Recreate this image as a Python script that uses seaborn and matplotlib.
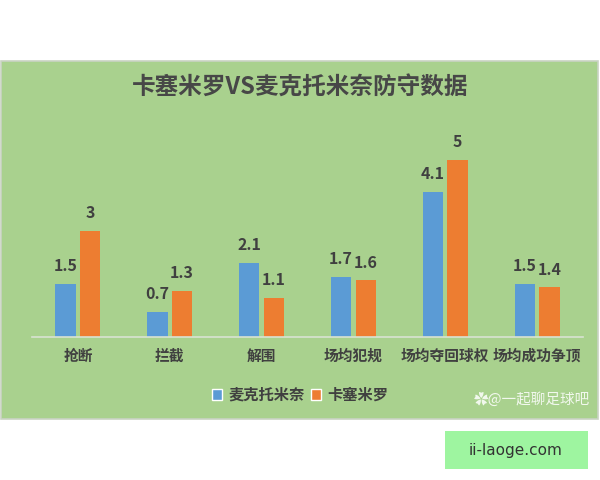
import matplotlib
matplotlib.use("Agg")
import matplotlib.pyplot as plt
import seaborn as sns
import pandas as pd
from matplotlib.patches import Rectangle, Patch

categories = ['抢断', '拦截', '解围', '场均犯规', '场均夺回球权', '场均成功争顶']
series_names = ['麦克托米奈', '卡塞米罗']
mctominay = [1.5, 0.7, 2.1, 1.7, 4.1, 1.5]
casemiro = [3, 1.3, 1.1, 1.6, 5, 1.4]
title = '卡塞米罗VS麦克托米奈防守数据'
colors = ['#5b9bd5', '#ed7d31']

sns.set_style("white")
plt.rcParams['font.family'] = ['Noto Sans CJK SC', 'DejaVu Sans']

df = pd.DataFrame({
    'cat': categories * 2,
    'val': mctominay + casemiro,
    'who': [series_names[0]] * len(categories) + [series_names[1]] * len(categories),
})

W, H = 600, 480
fig = plt.figure(figsize=(6, 4.8), dpi=100)
fig.patch.set_facecolor('white')
fig.patches.append(Rectangle((1 / W, 1 - 419 / H), 597 / W, 358 / H, transform=fig.transFigure,
                             facecolor='#a9d18e', edgecolor='#c9d3c4', lw=1.2, zorder=-10))
fig.patches.append(Rectangle((445 / W, 1 - 469 / H), 143 / W, 38 / H, transform=fig.transFigure,
                             facecolor='#9ef5a0', edgecolor='none', zorder=-10))

ax = fig.add_axes([32 / W, 1 - 337 / H, 551 / W, 237 / H])
ax.set_facecolor('none')
sns.barplot(data=df, x='cat', y='val', hue='who', palette=colors, width=0.54, gap=0.18,
            ax=ax, legend=False, saturation=1, linewidth=0)
ax.set_xlim(-0.5, 5.5)
ax.set_ylim(0, 237 / 35.4)
for c in ax.containers:
    ax.bar_label(c, fmt='%g', padding=7, fontsize=11.5, fontweight='bold', color='#404040')
for s in ['top', 'right', 'left']:
    ax.spines[s].set_visible(False)
ax.spines['bottom'].set_color('#d9e3d2')
ax.spines['bottom'].set_linewidth(1.2)
ax.set_yticks([])
ax.set_xlabel('')
ax.set_ylabel('')
ax.tick_params(axis='x', length=0, pad=8, labelsize=10.6, labelcolor='#404040')
for t in ax.get_xticklabels():
    t.set_fontweight('bold')

fig.text(0.5, 1 - 88 / H, title, ha='center', va='center', fontsize=17, fontweight='bold', color='#474747')

handles = [Patch(facecolor=c, label=n) for c, n in zip(colors, series_names)]
fig.legend(handles=handles, loc='center', bbox_to_anchor=(300 / W, 1 - 395 / H), ncol=2, frameon=False,
           handlelength=0.7, handleheight=0.7, handletextpad=0.4, columnspacing=0.4,
           prop={'size': 11, 'weight': 'bold'}, labelcolor='#404040')

fig.text(590 / W, 1 - 400 / H, '✿@一起聊足球吧', ha='right', va='center', fontsize=10.5,
         color='white', alpha=0.85, family=['Noto Sans CJK SC', 'DejaVu Sans'])
fig.text(516 / W, 1 - 450 / H, 'ii-laoge.com', ha='center', va='center', fontsize=11,
         color='#333333', family=['DejaVu Sans'])

fig.savefig('out.png', dpi=100)
